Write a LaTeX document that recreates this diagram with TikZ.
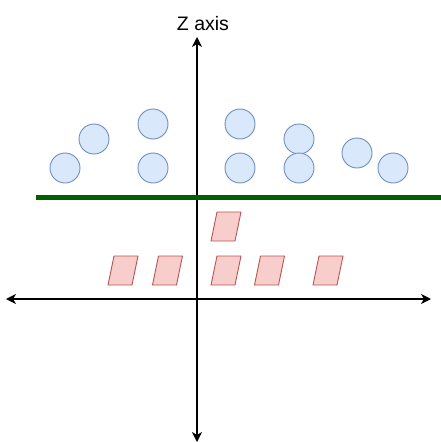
\documentclass[tikz,border=0pt]{standalone}
\usepackage{fontspec}
\setmainfont{Liberation Sans}
\usetikzlibrary{arrows.meta}
\definecolor{cfill}{HTML}{DAE8FC}
\definecolor{cdraw}{HTML}{6C8EBF}
\definecolor{pfill}{HTML}{F8CECC}
\definecolor{pdraw}{HTML}{B85450}
\definecolor{gline}{RGB}{0,96,0}
\tikzset{
  circ/.style={circle, draw=cdraw, fill=cfill, line width=0.9pt, minimum size=30pt, inner sep=0pt},
  para/.style={draw=pdraw, fill=pfill, line width=0.9pt, line join=round},
  axis/.style={line width=1.3pt, {Stealth[length=10pt,width=10pt,inset=3pt]}-{Stealth[length=10pt,width=10pt,inset=3pt]}},
  axisone/.style={line width=1.3pt, -{Stealth[length=10pt,width=10pt,inset=3pt]}},
}
\newcommand{\mypara}[3]{%
  \draw[para] (#2-15,#3+14.5) -- (#2-9,#3-14.5) -- (#2+15,#3-14.5) -- (#2+9,#3+14.5) -- cycle;
  \coordinate (#1) at (#2,#3);}
\begin{document}
\begin{tikzpicture}[x=1pt,y=-1pt]
\useasboundingbox (0,0) rectangle (441,442);
% axes
\coordinate (ztop) at (197,37);
\coordinate (zbot) at (197,442);
\coordinate (o) at (197,299);
\coordinate (xl) at (6,299);
\coordinate (xr) at (431,299);
\draw[axis] (xl) -- (xr);
\draw[axisone] (o) -- (ztop);
\draw[axisone] (o) -- (zbot);
\node[font=\fontsize{19.5}{22}\selectfont, anchor=base, inner sep=0pt] (zlab) at (203,30) {Z axis};
% green line
\coordinate (gl) at (36,197);
\coordinate (gr) at (441,197);
\draw[gline, line width=5pt] (gl) -- (gr);
% circles
\node[circ] (c1) at (65,168) {};
\node[circ] (c2) at (94,139) {};
\node[circ] (c3) at (153,124) {};
\node[circ] (c4) at (153,168) {};
\node[circ] (c5) at (240,124) {};
\node[circ] (c6) at (240,168) {};
\node[circ] (c7) at (299,139) {};
\node[circ] (c8) at (299,168) {};
\node[circ] (c9) at (357,153) {};
\node[circ] (c10) at (393,168) {};
% parallelograms
\mypara{p0}{226}{226.5}
\mypara{p1}{123}{270.5}
\mypara{p2}{167.5}{270.5}
\mypara{p3}{226}{270.5}
\mypara{p4}{269.5}{270.5}
\mypara{p5}{328}{270.5}
\end{tikzpicture}
\end{document}
